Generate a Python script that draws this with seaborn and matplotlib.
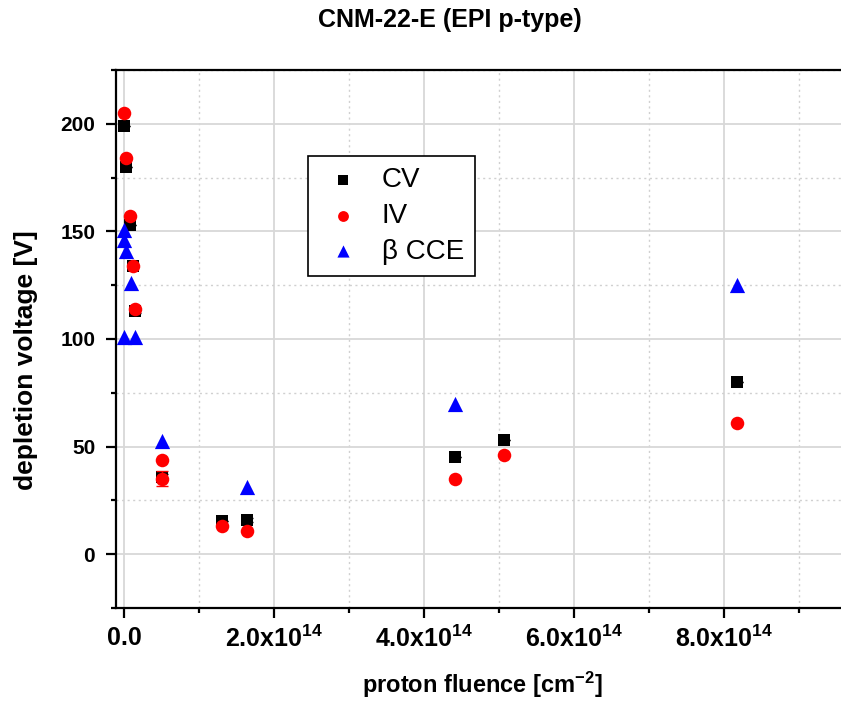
import matplotlib
matplotlib.use("Agg")
import matplotlib.pyplot as plt
import seaborn as sns
import pandas as pd
import numpy as np
from matplotlib.ticker import MultipleLocator, FixedLocator, FixedFormatter

# ---- data (fluence in cm^-2, depletion voltage in V) ----
cv_fluence = [0.005e14, 0.03e14, 0.085e14, 0.125e14, 0.14e14, 0.5e14, 1.31e14, 1.64e14, 4.41e14, 5.06e14, 8.17e14]
cv_voltage = [199, 180, 153, 134, 113, 36, 15.5, 16, 45, 53, 80]
cv_err     = [0, 0, 0, 0, 1, 1.5, 0, 1, 0, 0, 0]

iv_fluence = [0.005e14, 0.03e14, 0.085e14, 0.125e14, 0.14e14, 0.5e14, 0.5e14, 1.31e14, 1.64e14, 4.41e14, 5.06e14, 8.17e14]
iv_voltage = [205, 184, 157, 134, 114, 44, 35, 13, 11, 35, 46, 61]
iv_err     = [0, 0, 0, 0, 0, 0, 3.5, 0, 0, 0, 0, 0]

cce_fluence = [0.0, 0.005e14, 0.03e14, 0.09e14, 0.0, 0.14e14, 0.5e14, 1.64e14, 4.41e14, 8.17e14]
cce_voltage = [150.5, 146, 141, 126, 101, 101, 52.5, 31, 70, 125]

x_ticks = [0.0, 2e14, 4e14, 6e14, 8e14]
x_ticklabels = ["0.0", r"2.0x10$^{14}$", r"4.0x10$^{14}$", r"6.0x10$^{14}$", r"8.0x10$^{14}$"]
y_ticks = [0, 50, 100, 150, 200]

sns.set_theme(style="white")
plt.rcParams["font.family"] = ["Liberation Sans", "DejaVu Sans"]
plt.rcParams["mathtext.fontset"] = "custom"
plt.rcParams["mathtext.rm"] = "Liberation Sans:bold"
plt.rcParams["mathtext.it"] = "Liberation Sans:bold"
plt.rcParams["mathtext.bf"] = "Liberation Sans:bold"
plt.rcParams["text.color"] = "black"
plt.rcParams["axes.labelcolor"] = "black"
plt.rcParams["xtick.color"] = "black"
plt.rcParams["ytick.color"] = "black"

fig = plt.figure(figsize=(8.41, 7.13), dpi=100)
ax = fig.add_axes([116/841, 105/713, (841-116)/841, (608-70)/713])

df_cv = pd.DataFrame({"x": cv_fluence, "y": cv_voltage})
df_iv = pd.DataFrame({"x": iv_fluence, "y": iv_voltage})
df_cce = pd.DataFrame({"x": cce_fluence, "y": cce_voltage})

ax.errorbar(cv_fluence, cv_voltage, yerr=cv_err, fmt="none", ecolor="black",
            elinewidth=1, capsize=4, capthick=1, zorder=3)
sns.scatterplot(data=df_cv, x="x", y="y", ax=ax, marker="s", color="black",
                s=80, linewidth=0, label="CV", zorder=4)
ax.errorbar(iv_fluence, iv_voltage, yerr=iv_err, fmt="none", ecolor="red",
            elinewidth=1, capsize=4, capthick=1, zorder=5)
sns.scatterplot(data=df_iv, x="x", y="y", ax=ax, marker="o", color="red",
                s=95, linewidth=0, label="IV", zorder=6)
sns.scatterplot(data=df_cce, x="x", y="y", ax=ax, marker="^", color="blue",
                s=120, linewidth=0, label="β CCE", zorder=7)

ax.set_xlim(-0.107e14, 9.56e14)
ax.set_ylim(-25, 225)

ax.xaxis.set_major_locator(FixedLocator(x_ticks))
ax.xaxis.set_major_formatter(FixedFormatter(x_ticklabels))
ax.xaxis.set_minor_locator(MultipleLocator(1e14))
ax.yaxis.set_major_locator(FixedLocator(y_ticks))
ax.yaxis.set_minor_locator(MultipleLocator(25))

ax.grid(True, which="major", color="#d8d8d8", linewidth=1.3, linestyle="-")
ax.grid(True, which="minor", color="#d0d0d0", linewidth=1.0, linestyle=(0, (1.5, 2.5)))
ax.set_axisbelow(True)

for side in ["left", "bottom", "top"]:
    ax.spines[side].set_visible(True)
    ax.spines[side].set_color("black")
    ax.spines[side].set_linewidth(1.6)
ax.spines["right"].set_visible(False)

ax.tick_params(axis="both", which="major", direction="out", length=7, width=1.6,
               color="black", labelcolor="black", bottom=True, left=True, top=False, right=False)
ax.tick_params(axis="both", which="minor", direction="out", length=3.5, width=1.6,
               color="black", bottom=True, left=True, top=False, right=False)
ax.tick_params(axis="x", which="major", labelsize=18, pad=6)
ax.tick_params(axis="y", which="major", labelsize=15, pad=8)
for lab in ax.get_xticklabels() + ax.get_yticklabels():
    lab.set_fontweight("bold")

ax.set_xlabel(r"proton fluence [cm$^{-2}$]", fontsize=17, fontweight="bold", color="black")
ax.xaxis.set_label_coords((482 - 116) / 725, (608 - 670) / 538)
ax.xaxis.label.set_va("top")
ax.set_ylabel("depletion voltage [V]", fontsize=19, fontweight="bold", color="black")
ax.yaxis.set_label_coords((38 - 116) / 725, (608 - 360) / 538)
fig.text(450 / 841, 1 - 20 / 713, "CNM-22-E (EPI p-type)", ha="center", va="center",
         fontsize=18, fontweight="bold", color="black")

leg = ax.legend(loc="upper left", bbox_to_anchor=(0.265, 0.84), borderaxespad=0,
                fontsize=20, frameon=True, fancybox=False, framealpha=1,
                edgecolor="black", handletextpad=0.55, borderpad=0.4, labelspacing=0.35,
                markerscale=0.8, handlelength=1.7)
leg.get_frame().set_linewidth(1.2)
for t in leg.get_texts():
    t.set_color("black")

fig.savefig("out.png", dpi=100)
